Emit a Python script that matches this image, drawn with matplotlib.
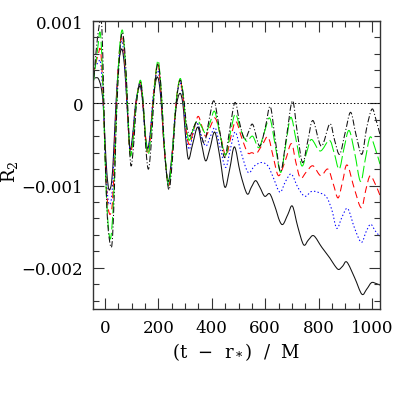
import numpy as np
import matplotlib
matplotlib.use('Agg')
import matplotlib.pyplot as plt
from matplotlib.path import Path
from matplotlib.patches import PathPatch
from matplotlib.ticker import MultipleLocator, FixedFormatter, FixedLocator

# values, R_2 in units of 1e-3
R_UNIT = 1e-3

black_t = [-45, -35, -25, -15, -7, 0, 7, 15, 25, 33, 42, 52, 63, 73, 82, 93, 103, 115,
           130, 140, 150, 160, 170, 182, 196, 208, 222, 236, 250, 265, 280, 292, 303,
           313, 328, 347, 362, 377, 393, 411, 430, 449, 467, 485, 507, 532, 548, 564,
           580, 598, 617, 636, 654, 667, 685, 702, 722, 744, 762, 782, 812, 842, 860,
           875, 890, 906, 935, 962, 980, 998, 1015, 1030]
black_r = [0.30, 0.31, 0.30, 0.20, 0.00, -0.45, -0.85, -1.05, -0.95, -0.55, 0.05, 0.50,
           0.66, 0.45, 0.0, -0.55, -0.40, 0.0, 0.21, 0.05, -0.35, -0.55, -0.35, 0.10,
           0.32, 0.10, -0.55, -0.95, -0.65, -0.08, 0.12, -0.02, -0.45, -0.68, -0.50,
           -0.29, -0.50, -0.70, -0.55, -0.35, -0.65, -1.02, -0.80, -0.53, -0.85, -1.10,
           -1.02, -0.94, -1.02, -1.13, -1.10, -1.25, -1.43, -1.47, -1.35, -1.25, -1.50,
           -1.72, -1.66, -1.61, -1.75, -1.88, -1.97, -2.02, -1.98, -1.93, -2.12, -2.32,
           -2.26, -2.18, -2.19, -2.21]

blue_t = [-45, -35, -25, -17, -9, 0, 8, 16, 26, 34, 42, 52, 63, 73, 82, 93, 103, 115,
          130, 140, 150, 160, 170, 182, 197, 208, 222, 237, 250, 265, 280, 292, 303, 315,
          328, 343, 360, 378, 395, 413, 432, 452, 470, 488, 510, 536, 560, 586, 610, 630,
          655, 676, 698, 722, 748, 775, 805, 830, 850, 868, 888, 909, 935, 960, 978, 995,
          1012, 1030]
blue_r = [0.40, 0.45, 0.50, 0.50, 0.15, -0.55, -1.05, -1.23, -1.10, -0.60, 0.0, 0.55,
          0.76, 0.50, 0.0, -0.57, -0.42, 0.0, 0.24, 0.05, -0.38, -0.57, -0.35, 0.15,
          0.40, 0.15, -0.55, -0.98, -0.68, -0.02, 0.25, 0.05, -0.35, -0.56, -0.40, -0.23,
          -0.40, -0.52, -0.40, -0.30, -0.55, -0.78, -0.55, -0.35, -0.60, -0.84, -0.76,
          -0.72, -0.76, -0.90, -1.08, -0.95, -0.86, -1.02, -1.13, -1.07, -1.09, -1.14,
          -1.30, -1.52, -1.38, -1.28, -1.52, -1.69, -1.56, -1.47, -1.55, -1.62]

red_t = [-45, -35, -25, -17, -9, 0, 8, 18, 28, 35, 43, 53, 64, 74, 83, 93, 104, 116,
         131, 141, 151, 161, 171, 183, 197, 208, 222, 238, 251, 266, 280, 292, 303, 315,
         330, 348, 363, 377, 395, 413, 433, 453, 472, 490, 512, 534, 550, 567, 590, 611,
         630, 650, 675, 698, 715, 732, 755, 779, 808, 835, 855, 873, 890, 907, 935, 960,
         977, 993, 1012, 1030]
red_r = [0.35, 0.48, 0.60, 0.65, 0.25, -0.60, -1.15, -1.35, -1.20, -0.65, 0.0, 0.60,
         0.83, 0.52, 0.0, -0.60, -0.45, 0.0, 0.26, 0.05, -0.40, -0.62, -0.38, 0.15, 0.48,
         0.20, -0.55, -1.00, -0.65, 0.0, 0.28, 0.08, -0.30, -0.50, -0.35, -0.16, -0.28,
         -0.40, -0.28, -0.18, -0.40, -0.64, -0.40, -0.22, -0.42, -0.60, -0.60, -0.61,
         -0.50, -0.41, -0.65, -0.88, -0.70, -0.49, -0.72, -0.91, -0.83, -0.76, -0.88,
         -0.80, -0.98, -1.15, -0.95, -0.75, -1.05, -1.27, -1.05, -0.88, -0.98, -1.12]

green_t = [-45, -38, -28, -18, -9, 0, 9, 20, 30, 37, 44, 54, 65, 75, 84, 94, 105, 117,
           132, 142, 152, 162, 172, 184, 198, 209, 223, 238, 251, 266, 281, 293, 304, 315,
           330, 345, 361, 377, 395, 411, 432, 452, 470, 488, 508, 530, 553, 576, 597, 617,
           637, 658, 677, 696, 716, 737, 755, 773, 806, 840, 858, 877, 895, 914, 935, 957,
           975, 993, 1012, 1030]
green_r = [0.22, 0.40, 0.65, 0.86, 0.35, -0.65, -1.35, -1.65, -1.30, -0.70, 0.0, 0.65,
           0.89, 0.55, 0.0, -0.62, -0.45, 0.0, 0.28, 0.05, -0.42, -0.62, -0.38, 0.15,
           0.52, 0.22, -0.55, -1.00, -0.65, 0.0, 0.30, 0.10, -0.28, -0.45, -0.32, -0.21,
           -0.28, -0.36, -0.22, -0.10, -0.40, -0.63, -0.35, -0.13, -0.32, -0.46, -0.40,
           -0.54, -0.35, -0.18, -0.50, -0.84, -0.50, -0.17, -0.45, -0.76, -0.60, -0.44,
           -0.58, -0.45, -0.60, -0.80, -0.55, -0.33, -0.60, -0.95, -0.68, -0.41, -0.55,
           -0.74]

dashdot_t = [-45, -38, -28, -15, -8, 0, 10, 24, 32, 38, 45, 55, 65, 76, 85, 96, 106,
             118, 132, 143, 153, 163, 174, 185, 198, 210, 224, 239, 252, 267, 281, 294,
             305, 317, 331, 345, 360, 373, 390, 408, 428, 448, 468, 487, 505, 523, 540,
             554, 579, 600, 619, 638, 658, 680, 702, 720, 740, 760, 779, 810, 842, 860,
             879, 900, 920, 940, 962, 980, 1000, 1015, 1030]
dashdot_r = [0.18, 0.45, 0.80, 1.02, 0.55, -0.60, -1.45, -1.75, -1.35, -0.70, 0.0, 0.60,
             0.86, 0.55, -0.05, -0.74, -0.55, 0.0, 0.26, 0.0, -0.55, -0.80, -0.45, 0.15,
             0.48, 0.18, -0.60, -1.05, -0.70, 0.0, 0.28, 0.08, -0.25, -0.40, -0.30, -0.23,
             -0.38, -0.48, -0.20, 0.03, -0.30, -0.66, -0.30, 0.01, -0.25, -0.44, -0.33,
             -0.26, -0.52, -0.30, -0.04, -0.45, -0.83, -0.40, 0.03, -0.35, -0.72, -0.45,
             -0.21, -0.52, -0.25, -0.45, -0.62, -0.35, -0.11, -0.38, -0.62, -0.30, -0.07,
             -0.20, -0.38]

x_ticks = [0, 200, 400, 600, 800, 1000]
y_ticks = [-0.002, -0.001, 0, 0.001]
y_tick_labels = ['\u22120.002', '\u22120.001', '0', '0.001']


def smooth_path(t, r):
    # draw the read points as one smooth bezier curve (catmull-rom style)
    p = np.column_stack([t, np.array(r) * R_UNIT])
    q = np.vstack([p[0], p, p[-1]])
    verts = [p[0]]
    codes = [Path.MOVETO]
    for i in range(1, len(q) - 2):
        c1 = q[i] + (q[i + 1] - q[i - 1]) / 6
        c2 = q[i + 1] - (q[i + 2] - q[i]) / 6
        verts += [c1, c2, q[i + 1]]
        codes += [Path.CURVE4] * 3
    return Path(verts, codes)


plt.rcParams['font.family'] = 'DejaVu Serif'
plt.rcParams['mathtext.fontset'] = 'dejavuserif'
plt.rcParams['lines.scale_dashes'] = False

fig = plt.figure(figsize=(4.02, 4.02), dpi=100)
ax = fig.add_axes([93 / 402, 1 - 310 / 402, 287 / 402, 288 / 402])

ax.axhline(0, color='black', lw=0.7, ls=(0, (1, 1.5)))

lw = 0.75
curves = [
    (black_t, black_r, '#111111', '-'),
    (blue_t, blue_r, '#0000ff', (0, (1, 1.6))),
    (red_t, red_r, '#ff0000', (0, (5, 3))),
    (green_t, green_r, '#00ee00', (0, (9, 2.5))),
    (dashdot_t, dashdot_r, '#111111', (0, (4.5, 1.5, 0.8, 1.5))),
]
for t, r, c, ls in curves:
    ax.add_patch(PathPatch(smooth_path(t, r), fill=False, edgecolor=c, lw=lw,
                           linestyle=ls))

ax.set_xlim(-45, 1030)
ax.set_ylim(-0.0025, 0.001)

ax.xaxis.set_major_locator(FixedLocator(x_ticks))
ax.xaxis.set_minor_locator(MultipleLocator(50))
ax.yaxis.set_major_locator(FixedLocator(y_ticks))
ax.yaxis.set_major_formatter(FixedFormatter(y_tick_labels))
ax.yaxis.set_minor_locator(MultipleLocator(0.0002))

ax.tick_params(which='both', direction='in', top=True, right=True, width=0.8,
               labelsize=12, color='#333333')
ax.tick_params(which='major', length=8, pad=7)
ax.tick_params(which='minor', length=4)
for s in ax.spines.values():
    s.set_linewidth(1.0)
    s.set_color('#333333')

ax.set_xlabel('(t  \u2212  r$_*$)  /  M', fontsize=13, labelpad=3)
fig.text(10 / 402, 1 - 172 / 402, 'R$_2$', rotation=90, fontsize=13,
         ha='center', va='center')

fig.savefig('out.png', dpi=100)
